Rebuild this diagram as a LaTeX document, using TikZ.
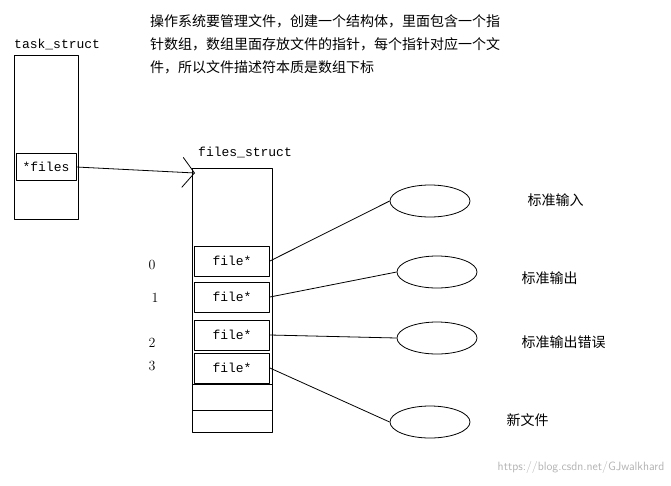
\documentclass[tikz,border=0pt]{standalone}
\usepackage{fontspec}
\usetikzlibrary{arrows.meta,shapes.geometric}
\setmonofont{Liberation Mono}
\newfontfamily\cjk{Noto Sans CJK SC}
\begin{document}
\begin{tikzpicture}[x=1pt,y=-1pt,line join=bevel,
  cell/.style={draw,thick,minimum width=75pt,minimum height=30pt,inner sep=0pt,font=\ttfamily\fontsize{13}{15}\selectfont},
  file/.style={draw,thick,ellipse,minimum width=80pt,minimum height=32pt},
  lab/.style={font=\cjk\fontsize{14}{16}\selectfont,anchor=west},
  idx/.style={font=\fontsize{14}{16}\selectfont}]
\useasboundingbox (0,0) rectangle (671,485);
  % Text
  \node[font=\cjk\fontsize{14}{23}\selectfont,anchor=north west,align=left,text width=360pt,inner sep=0pt] (note) at (150,14)
    {操作系统要管理文件，创建一个结构体，里面包含一个指\\针数组，数组里面存放文件的指针，每个指针对应一个文\\件，所以文件描述符本质是数组下标};
  % task_struct
  \node[font=\ttfamily\fontsize{13}{15}\selectfont,anchor=west,inner sep=0pt] (tname) at (14,44) {task\_struct};
  \draw[thick] (14,55) rectangle (78,219);
  \node[cell,minimum width=60pt,minimum height=27pt] (files) at (46,167) {*files};
  % files_struct
  \node[font=\ttfamily\fontsize{13}{15}\selectfont,anchor=west,inner sep=0pt] (fname) at (198,152) {files\_struct};
  \draw[thick] (192,168) rectangle (272,432);
  \node[cell] (f0) at (232,261) {file*};
  \node[cell] (f1) at (232,297) {file*};
  \node[cell] (f2) at (232,335) {file*};
  \node[cell] (f3) at (232,368) {file*};
  \draw[thick] (192,384) -- (272,384) (192,410) -- (272,410);
  \coordinate (tip) at (195,173);
  \draw[thick,-{Straight Barb[length=12pt,width=30pt]}] (files.east) -- (tip);
  % indices
  \node[idx] (n0) at (152,265) {0};
  \node[idx] (n1) at (155,298) {1};
  \node[idx] (n2) at (152,343) {2};
  \node[idx] (n3) at (152,366) {3};
  % files
  \node[file] (stdin) at (430,201) {};
  \node[file] (stdout) at (437,272) {};
  \node[file] (stderr) at (437,338) {};
  \node[file] (new) at (430,422) {};
  \draw[thick] (f0.east) -- (stdin.west);
  \draw[thick] (f1.east) -- (stdout.west);
  \draw[thick] (f2.east) -- (stderr.west);
  \draw[thick] (f3.east) -- (new.west);
  \node[lab] (l0) at (524,200) {标准输入};
  \node[lab] (l1) at (518,278) {标准输出};
  \node[lab] (l2) at (518,342) {标准输出错误};
  \node[lab] (l3) at (503,420) {新文件};
  \node[font=\sffamily\fontsize{12}{14}\selectfont,text=gray!60,anchor=east] (wm) at (668,467) {https://blog.csdn.net/GJwalkhard};
\end{tikzpicture}
\end{document}
